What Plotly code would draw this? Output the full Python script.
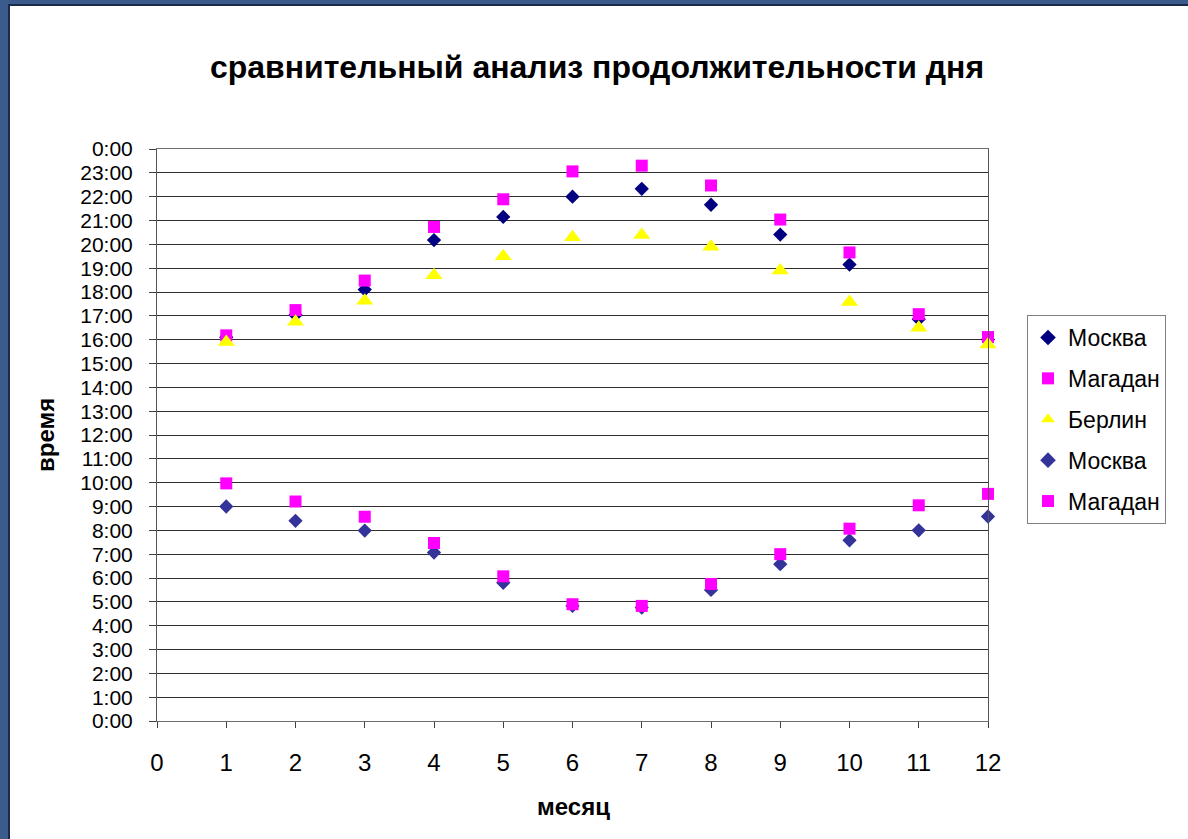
import plotly.graph_objects as go

months = list(range(1, 13))
x_ticks = list(range(0, 13))
y_hours = list(range(0, 25))
y_ticktext = [f"{h % 24}:00" for h in y_hours]

title = "сравнительный анализ продолжительности дня"
x_title = "месяц"
y_title = "время"

# sunset (hours, decimal)
moscow_sunset = [16.1, 17.03, 18.1, 20.18, 21.15, 22.0, 22.33, 21.66, 20.41, 19.15, 16.86, 16.01]
magadan_sunset = [16.18, 17.24, 18.48, 20.73, 21.89, 23.06, 23.3, 22.47, 21.04, 19.66, 17.07, 16.11]
berlin_sunset = [15.9, 16.75, 17.63, 18.7, 19.5, 20.3, 20.39, 19.9, 18.9, 17.58, 16.5, 15.8]
# sunrise (hours, decimal)
moscow_sunrise = [9.0, 8.4, 7.99, 7.07, 5.8, 4.83, 4.76, 5.5, 6.58, 7.58, 8.0, 8.58]
magadan_sunrise = [9.97, 9.21, 8.57, 7.47, 6.07, 4.9, 4.83, 5.75, 7.0, 8.07, 9.05, 9.53]

series = [
    ("Москва", moscow_sunset, "#000080", "diamond", 11),
    ("Магадан", magadan_sunset, "#FF00FF", "square", 12),
    ("Берлин", berlin_sunset, "#FFFF00", "triangle-up", 15),
    ("Москва", moscow_sunrise, "#333399", "diamond", 11),
    ("Магадан", magadan_sunrise, "#FF00FF", "square", 12),
]

W, H = 1188, 839
L, R, T, B = 157, 200, 149, 118
pw, ph = W - L - R, H - T - B

fig = go.Figure()
for i, (name, vals, color, sym, size) in enumerate(series):
    fig.add_trace(go.Scatter(
        x=months, y=vals, mode="markers", name=name,
        marker=dict(color=color, symbol=sym, size=size, line=dict(width=0)),
        cliponaxis=False, legendgroup=f"g{i}",
    ))

font = "Liberation Sans, Arial, sans-serif"

def px_x(px):
    return (px - L) / pw

def px_y(py):
    return (H - B - py) / ph

fig.update_layout(
    width=W, height=H,
    margin=dict(l=L, r=R, t=T, b=B, pad=0),
    paper_bgcolor="#3b5b8c",
    plot_bgcolor="white",
    font=dict(family=font, size=24, color="black"),
    title=dict(text=f"<b>{title}</b>", x=597 / W, xref="container", xanchor="center",
               y=1 - 67 / H, yref="container", yanchor="middle",
               font=dict(family=font, size=32, color="black")),
    showlegend=True,
    legend=dict(x=px_x(1027), y=px_y(315), xanchor="left", yanchor="top",
                bgcolor="white", bordercolor="#808080", borderwidth=1,
                font=dict(family=font, size=23, color="black"),
                tracegroupgap=8, itemsizing="constant"),
    xaxis=dict(range=[0, 12], tickvals=x_ticks, ticktext=[str(v) for v in x_ticks],
               showgrid=False, zeroline=False, showline=True, linecolor="#6e6e6e",
               linewidth=1, mirror=True, ticks="outside", ticklen=6, tickcolor="#404040",
               tickfont=dict(family=font, size=24), ticklabelstandoff=14),
    yaxis=dict(range=[0, 24], tickvals=y_hours, ticktext=y_ticktext,
               showgrid=True, gridcolor="#2e2e2e", gridwidth=1, zeroline=False,
               showline=True, linecolor="#555555", linewidth=1, mirror=True,
               ticks="outside", ticklen=7, tickcolor="#404040",
               tickfont=dict(family=font, size=21), ticklabelstandoff=12),
    shapes=[dict(type="rect", xref="paper", yref="paper", layer="below",
                 x0=px_x(9), x1=px_x(W + 5), y0=px_y(H + 5), y1=px_y(5),
                 fillcolor="white", line=dict(color="#1c2a4a", width=2))],
    annotations=[
        dict(text=f"<b>{x_title}</b>", xref="paper", yref="paper",
             x=px_x(573), y=px_y(806), xanchor="center", yanchor="middle",
             showarrow=False, font=dict(family=font, size=24, color="black")),
        dict(text=f"<b>{y_title}</b>", xref="paper", yref="paper",
             x=px_x(45), y=px_y(435), xanchor="center", yanchor="middle",
             textangle=-90, showarrow=False, font=dict(family=font, size=24, color="black")),
    ],
)

fig.write_html("out.html")
